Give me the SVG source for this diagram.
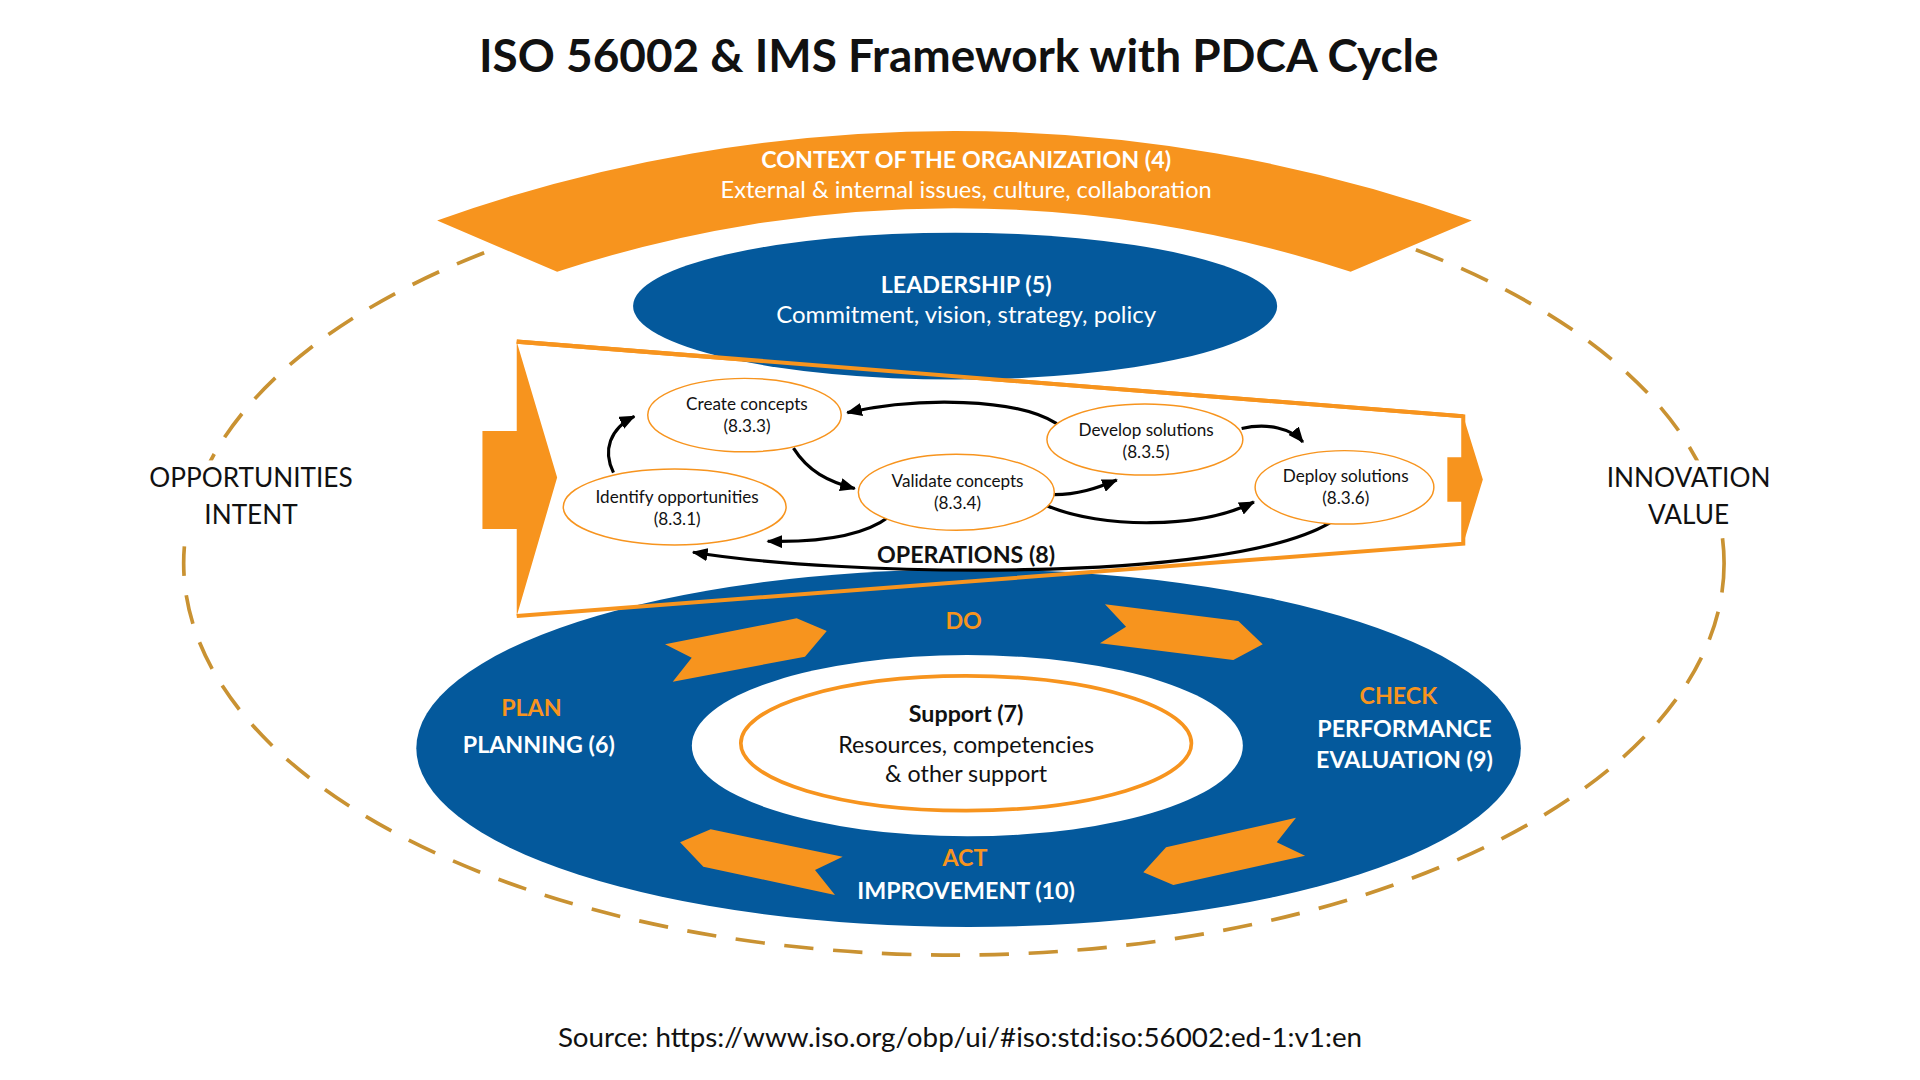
<svg xmlns="http://www.w3.org/2000/svg" width="1920" height="1080" viewBox="0 0 1920 1080">
<defs>
<style>
text{font-family:Lato,"Open Sans","Liberation Sans",sans-serif;text-anchor:middle}
.b{font-weight:700}
.w{fill:#ffffff}
.o{fill:#F7941E}
.k{fill:#111111}
.node{fill:#ffffff;stroke:#F7941E;stroke-width:1.2}
.nt{font-size:14px;fill:#111111}
.conn{fill:none;stroke:#000000;stroke-width:2.6}
.chev{fill:#F7941E}
.pl{font-size:19px}
</style>
<marker id="ah" viewBox="0 0 12 10" refX="11" refY="5" markerWidth="13" markerHeight="11" markerUnits="userSpaceOnUse" orient="auto">
<path d="M0,0 L12,5 L0,10 z" fill="#000000"/>
</marker>
</defs>
<rect width="1920" height="1080" fill="#ffffff"/>
<g transform="scale(1.22449)">
<text id="title" x="783" y="59" class="b k" style="font-size:37.5px">ISO 56002 &amp; IMS Framework with PDCA Cycle</text>

<g id="boundary">
<ellipse cx="779" cy="460" rx="629" ry="320" fill="none" stroke="#C99232" stroke-width="3" stroke-dasharray="24 16"/>
</g>

<g id="opportunities">
<rect x="116" y="376" width="180" height="60" fill="#ffffff"/>
<text x="205" y="398" class="k" style="font-size:21.4px">OPPORTUNITIES</text>
<text x="205" y="428" class="k" style="font-size:21.4px">INTENT</text>
</g>
<g id="innovation">
<rect x="1305" y="376" width="150" height="60" fill="#ffffff"/>
<text x="1379" y="398" class="k" style="font-size:21.4px">INNOVATION</text>
<text x="1379" y="428" class="k" style="font-size:21.4px">VALUE</text>
</g>

<g id="context">
<path d="M357 180 A1259 1259 0 0 1 1202 180 L1103 222 A1035 1035 0 0 0 455 222 Z" fill="#F7941E"/>
<text x="789" y="137" class="b w" style="font-size:19px">CONTEXT OF THE ORGANIZATION (4)</text>
<text x="789" y="162" class="w" style="font-size:19.3px">External &amp; internal issues, culture, collaboration</text>
</g>

<g id="pdca">
<ellipse cx="791" cy="611" rx="451" ry="146" fill="#04599C"/>
<ellipse cx="790" cy="609" rx="225" ry="74" fill="#ffffff"/>
<polygon class="chev" points="543.1,526.2 650.6,505.0 675.2,515.3 657.4,536.3 549.4,556.7 564.9,537.1"/>
<polygon class="chev" points="902.4,493.5 1011.3,507.2 1031.2,526.2 1007.2,539.0 898.3,525.4 919.6,511.8"/>
<polygon class="chev" points="555.4,687.9 580.4,677.3 688.2,699.7 665.6,710.5 681.9,730.9 574.4,707.8"/>
<polygon class="chev" points="933.7,712.4 952.3,692.0 1058.4,667.8 1042.7,687.9 1065.8,698.8 958.2,722.8"/>
<text x="787" y="514" class="b o pl">DO</text>
<text x="434" y="585" class="b o pl">PLAN</text>
<text x="440" y="615" class="b w pl">PLANNING (6)</text>
<text x="1142" y="575" class="b o pl">CHECK</text>
<text x="1147" y="602" class="b w pl">PERFORMANCE</text>
<text x="1147" y="627" class="b w pl">EVALUATION (9)</text>
<text x="788" y="707" class="b o pl">ACT</text>
<text x="789" y="734" class="b w pl">IMPROVEMENT (10)</text>
</g>

<g id="support">
<ellipse cx="789" cy="607" rx="184" ry="55" fill="none" stroke="#F7941E" stroke-width="3"/>
<text x="789" y="590" class="b k" style="font-size:19px">Support (7)</text>
<text x="789" y="615" class="k" style="font-size:19px">Resources, competencies</text>
<text x="789" y="639" class="k" style="font-size:19px">&amp; other support</text>
</g>

<g id="operations">
<path d="M422 279 L1195 340 L1195 444 L422 503" fill="none" stroke="#F7941E" stroke-width="3.3" stroke-linejoin="miter"/>
<path d="M394 352 L422 352 L422 279 L455 390 L422 503 L422 432 L394 432 Z" fill="#F7941E"/>
<path d="M1182 373.5 L1195 373.5 L1195 340 L1211 391.5 L1195 444 L1195 409.7 L1182 409.7 Z" fill="#F7941E"/>
<text x="789" y="460" class="b k" style="font-size:19px">OPERATIONS (8)</text>
</g>

<g id="leadership">
<ellipse cx="780" cy="250" rx="263" ry="60" fill="#04599C"/>
<text x="789" y="239" class="b w" style="font-size:19px">LEADERSHIP (5)</text>
<text x="789" y="264" class="w" style="font-size:19.6px">Commitment, vision, strategy, policy</text>
</g>
<path d="M422 279 L1195 340" fill="none" stroke="#F7941E" stroke-width="3.3"/>

<g id="connectors">
<path class="conn" marker-end="url(#ah)" d="M501 386 C492 368 498 350 518 340"/>
<path class="conn" marker-end="url(#ah)" d="M648 366 C660 385 676 393 698 399"/>
<path class="conn" marker-end="url(#ah)" d="M863 346 C830 325 750 324 692 337"/>
<path class="conn" marker-end="url(#ah)" d="M861 404 C880 404 895 399 912 392"/>
<path class="conn" marker-end="url(#ah)" d="M1014 350 C1035 345 1055 350 1064 361"/>
<path class="conn" marker-end="url(#ah)" d="M855 413 C900 432 980 432 1024 410"/>
<path class="conn" marker-end="url(#ah)" d="M726 422 C705 438 670 443 627 442"/>
<path class="conn" marker-end="url(#ah)" d="M1086 427 C1000 478 680 470 566 451"/>
</g>

<g id="n831">
<ellipse class="node" cx="551" cy="414" rx="91" ry="31"/>
<text x="553" y="411" class="nt">Identify opportunities</text>
<text x="553" y="429" class="nt">(8.3.1)</text>
</g>
<g id="n833">
<ellipse class="node" cx="608" cy="339" rx="79" ry="30"/>
<text x="610" y="335" class="nt">Create concepts</text>
<text x="610" y="353" class="nt">(8.3.3)</text>
</g>
<g id="n834">
<ellipse class="node" cx="781" cy="402" rx="80" ry="31"/>
<text x="782" y="398" class="nt">Validate concepts</text>
<text x="782" y="416" class="nt">(8.3.4)</text>
</g>
<g id="n835">
<ellipse class="node" cx="935" cy="359" rx="80" ry="29"/>
<text x="936" y="356" class="nt">Develop solutions</text>
<text x="936" y="374" class="nt">(8.3.5)</text>
</g>
<g id="n836">
<ellipse class="node" cx="1098" cy="398" rx="73" ry="30"/>
<text x="1099" y="394" class="nt">Deploy solutions</text>
<text x="1099" y="412" class="nt">(8.3.6)</text>
</g>

<text id="source" x="784" y="855" class="k" style="font-size:22.7px">Source: https://www.iso.org/obp/ui/#iso:std:iso:56002:ed-1:v1:en</text>
</g>
</svg>
